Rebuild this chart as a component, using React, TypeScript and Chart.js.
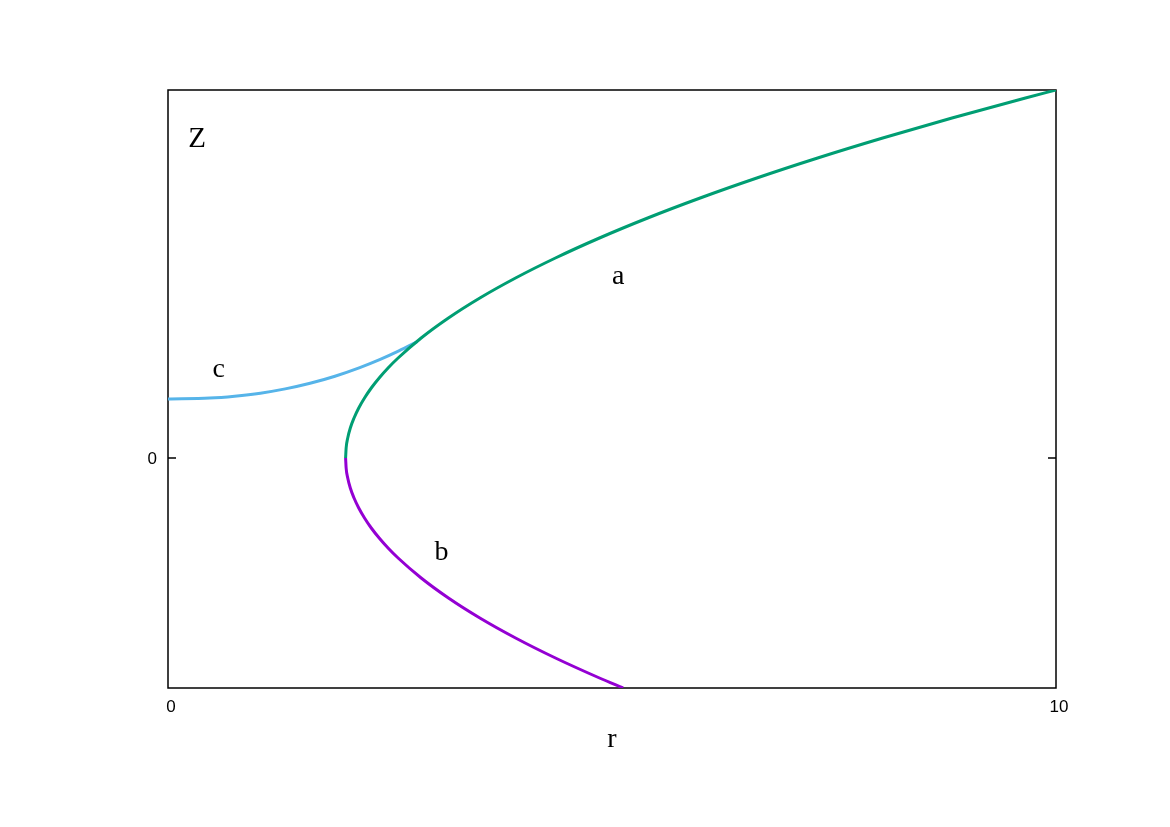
import React, { useEffect, useRef } from "react";
import { Chart, registerables } from "chart.js";

Chart.register(...registerables);

// Branch a (green, upper parabola branch): r vs Z
const branchA_r = [2.0, 2.006, 2.024, 2.053, 2.095, 2.148, 2.213, 2.289, 2.378, 2.478, 2.591, 2.851, 3.158, 3.512, 3.914, 4.363, 4.859, 5.402, 5.993, 6.631, 7.316, 8.049, 8.829, 9.656, 10.0];
const branchA_z = [0, 0.1, 0.2, 0.3, 0.4, 0.5, 0.6, 0.7, 0.8, 0.9, 1.0, 1.2, 1.4, 1.6, 1.8, 2.0, 2.2, 2.4, 2.6, 2.8, 3.0, 3.2, 3.4, 3.6, 3.68];

// Branch b (purple, lower branch)
const branchB_r = [2.0, 2.006, 2.024, 2.053, 2.095, 2.148, 2.213, 2.289, 2.378, 2.478, 2.591, 2.851, 3.158, 3.512, 3.914, 4.363, 4.859, 5.125];
const branchB_z = [0, -0.1, -0.2, -0.3, -0.4, -0.5, -0.6, -0.7, -0.8, -0.9, -1.0, -1.2, -1.4, -1.6, -1.8, -2.0, -2.2, -2.3];

// Branch c (blue)
const branchC_r = [0, 0.47, 0.75, 1.04, 1.32, 1.6, 1.88, 2.16, 2.39, 2.6, 2.81];
const branchC_z = [0.59, 0.599, 0.618, 0.648, 0.691, 0.747, 0.818, 0.904, 0.986, 1.071, 1.165];

const xTickValues = [0, 10];
const xTickLabels = ["0", "10"];
const yTickValues = [0];
const yTickLabels = ["0"];

const curveLabels = ["a", "b", "c"];
const curveLabelR = [5.07, 3.08, 0.57];
const curveLabelZ = [1.74, -1.02, 0.81];

const xTitle = "r";
const yTitle = "Z";

const colorA = "#009e73";
const colorB = "#9400d3";
const colorC = "#56b4e9";

const toPoints = (rs: number[], zs: number[]) => rs.map((r, i) => ({ x: r, y: zs[i] }));

const framePlugin = {
  id: "frame",
  beforeDatasetsDraw(chart: any) {
    const { ctx, chartArea } = chart;
    const { left, top, right, bottom } = chartArea;
    const ys = chart.scales.y;
    ctx.save();
    ctx.strokeStyle = "#000";
    ctx.lineWidth = 1.5;
    ctx.strokeRect(left, top, right - left, bottom - top);
    yTickValues.forEach((v) => {
      const py = ys.getPixelForValue(v);
      ctx.beginPath();
      ctx.moveTo(left, py);
      ctx.lineTo(left + 8, py);
      ctx.moveTo(right, py);
      ctx.lineTo(right - 8, py);
      ctx.stroke();
    });
    ctx.restore();
  },
  afterDraw(chart: any) {
    const { ctx, chartArea } = chart;
    const { left, bottom } = chartArea;
    const xs = chart.scales.x;
    const ys = chart.scales.y;
    ctx.save();
    ctx.fillStyle = "#000";
    ctx.font = '17px "Liberation Sans", Arial, sans-serif';
    ctx.textBaseline = "middle";
    ctx.textAlign = "center";
    xTickValues.forEach((v, i) => {
      ctx.fillText(xTickLabels[i], xs.getPixelForValue(v) + 3, bottom + 19);
    });
    ctx.textAlign = "right";
    yTickValues.forEach((v, i) => {
      ctx.fillText(yTickLabels[i], left - 11, ys.getPixelForValue(v) + 1);
    });
    ctx.font = '28px "Liberation Serif", "Times New Roman", serif';
    ctx.textBaseline = "alphabetic";
    ctx.textAlign = "center";
    curveLabels.forEach((t, i) => {
      ctx.fillText(t, xs.getPixelForValue(curveLabelR[i]), ys.getPixelForValue(curveLabelZ[i]));
    });
    ctx.fillText(xTitle, (chartArea.left + chartArea.right) / 2, bottom + 59);
    ctx.font = '29px "Liberation Serif", "Times New Roman", serif';
    ctx.fillText(yTitle, left + 29, chartArea.top + 57);
    ctx.restore();
  },
};

export default function App() {
  const canvasRef = useRef<HTMLCanvasElement | null>(null);

  useEffect(() => {
    const canvas = canvasRef.current;
    if (!canvas) return;
    const chart = new Chart(canvas, {
      type: "scatter",
      data: {
        datasets: [
          {
            label: "a",
            data: toPoints(branchA_r, branchA_z),
            showLine: true,
            borderColor: colorA,
            borderWidth: 3,
            pointRadius: 0,
            cubicInterpolationMode: "monotone",
            order: 0,
          },
          {
            label: "b",
            data: toPoints(branchB_r, branchB_z),
            showLine: true,
            borderColor: colorB,
            borderWidth: 3,
            pointRadius: 0,
            cubicInterpolationMode: "monotone",
            order: 1,
          },
          {
            label: "c",
            data: toPoints(branchC_r, branchC_z),
            showLine: true,
            borderColor: colorC,
            borderWidth: 3,
            pointRadius: 0,
            cubicInterpolationMode: "monotone",
            order: 2,
          },
        ],
      },
      options: {
        responsive: false,
        animation: false,
        devicePixelRatio: 1,
        layout: { padding: { left: 168, top: 90, right: 114, bottom: 139 } },
        plugins: { legend: { display: false }, tooltip: { enabled: false } },
        scales: {
          x: { type: "linear", min: 0, max: 10, display: false },
          y: { type: "linear", min: -2.3, max: 3.68, display: false },
        },
      },
      plugins: [framePlugin],
    } as any);
    return () => chart.destroy();
  }, []);

  return (
    <div style={{ position: "fixed", left: 0, top: 0, width: 1170, height: 827, background: "#fff" }}>
      <canvas ref={canvasRef} width={1170} height={827} style={{ display: "block" }} />
    </div>
  );
}
